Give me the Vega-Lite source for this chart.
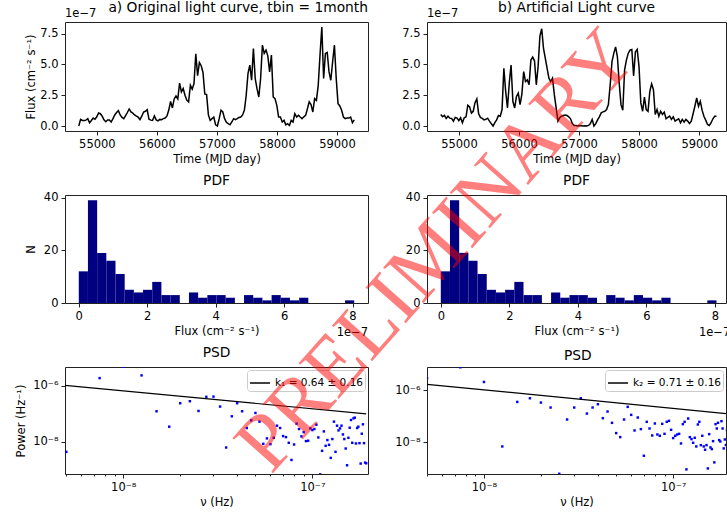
{
"$schema": "https://vega.github.io/schema/vega-lite/v6.json",
"autosize": {"type": "none"},
"padding": {"left": 65, "top": 22, "right": 662, "bottom": 497},
"background": "white",
"bounds": "flush",
"columns": 2,
"spacing": {"row": 64, "column": 59},
"resolve": {"scale": {"color": "independent"}, "legend": {"color": "independent"}},
"config": {
  "font": "DejaVu Sans",
  "view": {"stroke": "#222222", "strokeWidth": 1},
  "axis": {"domain": false, "grid": false, "ticks": true, "tickColor": "#222222", "tickSize": 4, "tickWidth": 1,
           "labelFont": "DejaVu Sans", "labelFontSize": 11.5, "labelColor": "black", "labelPadding": 3,
           "labelFlush": false, "labelOverlap": false,
           "titleFont": "DejaVu Sans", "titleFontSize": 11.5, "titleFontWeight": "normal", "titleColor": "black", "titlePadding": 4},
  "title": {"font": "DejaVu Sans", "fontSize": 13.8, "fontWeight": "normal", "color": "black", "frame": "group", "baseline": "alphabetic"},
  "legend": {"orient": "top-right", "offset": 3, "strokeColor": "#cccccc", "fillColor": "white", "cornerRadius": 3, "padding": 2,
             "labelFont": "DejaVu Sans", "labelFontSize": 10.5, "labelColor": "black", "symbolType": "stroke", "symbolSize": 400, "symbolStrokeWidth": 1.5}
},
"datasets": {
  "lc": [
{"t":54698,"orig":0.0,"art":0.94},{"t":54728,"orig":0.54,"art":0.75},{"t":54758,"orig":0.45,"art":0.86},{"t":54788,"orig":0.46,"art":0.62},{"t":54818,"orig":0.48,"art":0.8},
{"t":54848,"orig":0.6,"art":0.64},{"t":54878,"orig":0.27,"art":0.62},{"t":54908,"orig":0.45,"art":0.4},{"t":54938,"orig":0.65,"art":0.7},{"t":54968,"orig":0.55,"art":0.64},
{"t":54998,"orig":0.75,"art":0.43},{"t":55028,"orig":1.06,"art":0.67},{"t":55058,"orig":1.0,"art":0.27},{"t":55088,"orig":0.8,"art":0.67},{"t":55118,"orig":0.5,"art":0.75},
{"t":55148,"orig":0.35,"art":1.69},{"t":55178,"orig":0.5,"art":1.55},{"t":55208,"orig":0.5,"art":1.05},{"t":55238,"orig":0.33,"art":1.2},{"t":55268,"orig":0.6,"art":1.9},
{"t":55298,"orig":0.9,"art":2.2},{"t":55328,"orig":1.1,"art":1.0},{"t":55358,"orig":1.25,"art":0.7},{"t":55388,"orig":0.9,"art":0.62},{"t":55418,"orig":0.7,"art":0.5},
{"t":55448,"orig":0.6,"art":0.55},{"t":55478,"orig":0.85,"art":0.64},{"t":55508,"orig":1.1,"art":0.4},{"t":55538,"orig":1.39,"art":0.2},{"t":55568,"orig":1.15,"art":0.0},
{"t":55598,"orig":1.05,"art":0.27},{"t":55628,"orig":0.9,"art":0.5},{"t":55658,"orig":0.8,"art":0.86},{"t":55688,"orig":0.72,"art":0.8},{"t":55718,"orig":0.52,"art":1.34},
{"t":55748,"orig":0.8,"art":4.69},{"t":55778,"orig":1.14,"art":2.82},{"t":55808,"orig":1.2,"art":1.47},{"t":55838,"orig":1.33,"art":3.49},{"t":55868,"orig":0.55,"art":4.96},
{"t":55898,"orig":0.48,"art":2.01},{"t":55928,"orig":0.46,"art":1.47},{"t":55958,"orig":0.82,"art":2.4},{"t":55988,"orig":0.5,"art":2.68},{"t":56018,"orig":0.42,"art":1.74},
{"t":56048,"orig":0.54,"art":2.6},{"t":56078,"orig":0.52,"art":4.42},{"t":56108,"orig":0.6,"art":3.62},{"t":56138,"orig":0.65,"art":3.75},{"t":56168,"orig":0.82,"art":3.35},
{"t":56198,"orig":1.3,"art":5.36},{"t":56228,"orig":2.0,"art":5.6},{"t":56258,"orig":1.47,"art":5.3},{"t":56288,"orig":2.2,"art":3.35},{"t":56318,"orig":2.45,"art":4.83},
{"t":56348,"orig":2.2,"art":7.3},{"t":56378,"orig":3.48,"art":7.9},{"t":56408,"orig":2.77,"art":6.3},{"t":56438,"orig":3.04,"art":5.5},{"t":56468,"orig":2.5,"art":4.69},
{"t":56498,"orig":2.1,"art":3.89},{"t":56528,"orig":1.96,"art":3.62},{"t":56558,"orig":3.32,"art":3.89},{"t":56588,"orig":3.0,"art":2.55},{"t":56618,"orig":3.45,"art":1.5},
{"t":56648,"orig":5.87,"art":0.4},{"t":56678,"orig":4.1,"art":0.67},{"t":56708,"orig":5.16,"art":0.8},{"t":56738,"orig":4.9,"art":0.86},{"t":56768,"orig":4.35,"art":0.9},
{"t":56798,"orig":2.6,"art":0.86},{"t":56828,"orig":2.55,"art":0.75},{"t":56858,"orig":0.9,"art":0.59},{"t":56888,"orig":0.46,"art":0.2},{"t":56918,"orig":0.6,"art":0.05},
{"t":56948,"orig":0.72,"art":0.05},{"t":56978,"orig":0.1,"art":0.0},{"t":57008,"orig":0.0,"art":0.05},{"t":57038,"orig":0.6,"art":0.03},{"t":57068,"orig":1.28,"art":0.0},
{"t":57098,"orig":1.14,"art":0.02},{"t":57128,"orig":0.6,"art":0.0},{"t":57158,"orig":0.3,"art":0.05},{"t":57188,"orig":0.19,"art":0.2},{"t":57218,"orig":0.1,"art":0.54},
{"t":57248,"orig":0.33,"art":0.0},{"t":57278,"orig":0.6,"art":0.2},{"t":57308,"orig":0.52,"art":0.5},{"t":57338,"orig":0.6,"art":0.75},{"t":57368,"orig":0.7,"art":1.07},
{"t":57398,"orig":0.73,"art":1.15},{"t":57428,"orig":0.9,"art":1.2},{"t":57458,"orig":1.3,"art":1.34},{"t":57488,"orig":2.5,"art":1.74},{"t":57518,"orig":4.27,"art":3.35},
{"t":57548,"orig":4.95,"art":5.23},{"t":57578,"orig":3.72,"art":5.9},{"t":57608,"orig":6.3,"art":6.43},{"t":57638,"orig":3.86,"art":5.63},{"t":57668,"orig":3.04,"art":3.49},
{"t":57698,"orig":2.36,"art":1.74},{"t":57728,"orig":3.86,"art":1.29},{"t":57758,"orig":6.58,"art":4.56},{"t":57788,"orig":5.9,"art":5.36},{"t":57818,"orig":6.17,"art":5.9},
{"t":57848,"orig":5.7,"art":6.17},{"t":57878,"orig":4.4,"art":6.22},{"t":57908,"orig":5.76,"art":4.07},{"t":57938,"orig":2.36,"art":6.03},{"t":57968,"orig":2.23,"art":6.22},
{"t":57998,"orig":1.68,"art":4.83},{"t":58028,"orig":0.73,"art":1.88},{"t":58058,"orig":0.73,"art":1.2},{"t":58088,"orig":0.33,"art":2.36},{"t":58118,"orig":0.46,"art":1.34},
{"t":58148,"orig":0.1,"art":1.2},{"t":58178,"orig":0.19,"art":2.82},{"t":58208,"orig":0.05,"art":3.43},{"t":58238,"orig":0.46,"art":2.95},{"t":58268,"orig":0.33,"art":0.94},
{"t":58298,"orig":1.0,"art":1.34},{"t":58328,"orig":0.73,"art":0.8},{"t":58358,"orig":0.87,"art":1.2},{"t":58388,"orig":0.73,"art":0.94},{"t":58418,"orig":0.6,"art":1.13},
{"t":58448,"orig":0.75,"art":0.59},{"t":58478,"orig":0.87,"art":0.7},{"t":58508,"orig":1.41,"art":0.8},{"t":58538,"orig":1.96,"art":0.54},{"t":58568,"orig":1.74,"art":0.75},
{"t":58598,"orig":1.14,"art":0.4},{"t":58628,"orig":2.23,"art":0.5},{"t":58658,"orig":2.09,"art":0.59},{"t":58688,"orig":3.3,"art":0.27},{"t":58718,"orig":5.76,"art":0.54},
{"t":58748,"orig":8.05,"art":0.32},{"t":58778,"orig":3.86,"art":0.54},{"t":58808,"orig":5.9,"art":0.4},{"t":58838,"orig":5.98,"art":0.21},{"t":58868,"orig":4.4,"art":0.4},
{"t":58898,"orig":3.72,"art":1.0},{"t":58928,"orig":5.22,"art":1.61},{"t":58958,"orig":6.58,"art":2.28},{"t":58988,"orig":3.86,"art":1.61},{"t":59018,"orig":1.82,"art":2.01},
{"t":59048,"orig":1.63,"art":1.29},{"t":59078,"orig":1.28,"art":0.8},{"t":59108,"orig":0.73,"art":0.48},{"t":59138,"orig":0.6,"art":0.13},{"t":59168,"orig":0.65,"art":0.05},
{"t":59198,"orig":0.65,"art":0.27},{"t":59228,"orig":0.73,"art":0.59},{"t":59258,"orig":0.27,"art":0.8},{"t":59288,"orig":0.5,"art":0.8}
  ],
  "hist": [
{"x0":0.0,"x1":0.268,"n":12},{"x0":0.268,"x1":0.537,"n":39},{"x0":0.537,"x1":0.805,"n":19},{"x0":0.805,"x1":1.073,"n":16},{"x0":1.073,"x1":1.342,"n":11},
{"x0":1.342,"x1":1.61,"n":5},{"x0":1.61,"x1":1.878,"n":4},{"x0":1.878,"x1":2.147,"n":5},{"x0":2.147,"x1":2.415,"n":8},{"x0":2.415,"x1":2.683,"n":3},
{"x0":2.683,"x1":2.952,"n":3},{"x0":2.952,"x1":3.22,"n":0},{"x0":3.22,"x1":3.488,"n":4},{"x0":3.488,"x1":3.757,"n":2},{"x0":3.757,"x1":4.025,"n":3},
{"x0":4.025,"x1":4.293,"n":3},{"x0":4.293,"x1":4.562,"n":2},{"x0":4.562,"x1":4.83,"n":0},{"x0":4.83,"x1":5.098,"n":3},{"x0":5.098,"x1":5.367,"n":2},
{"x0":5.367,"x1":5.635,"n":1},{"x0":5.635,"x1":5.903,"n":3},{"x0":5.903,"x1":6.172,"n":2},{"x0":6.172,"x1":6.44,"n":1},{"x0":6.44,"x1":6.708,"n":2},
{"x0":6.708,"x1":6.977,"n":0},{"x0":6.977,"x1":7.245,"n":0},{"x0":7.245,"x1":7.513,"n":0},{"x0":7.513,"x1":7.782,"n":0},{"x0":7.782,"x1":8.05,"n":1}
  ],
  "psd": [
{"nu":5e-9,"p1":4.38e-9,"p2":2.88e-6},{"nu":7.5e-9,"p1":1.88e-6,"p2":7.59e-6},{"nu":1e-8,"p1":4.79e-6,"p2":2.08e-6},{"nu":1.25e-8,"p1":2.35e-6,"p2":7.03e-9},
{"nu":1.5e-8,"p1":1.23e-7,"p2":3.58e-7},{"nu":1.75e-8,"p1":3.46e-8,"p2":4.94e-7},{"nu":2e-8,"p1":2.38e-7,"p2":3.38e-7},{"nu":2.25e-8,"p1":2.81e-7,"p2":2.18e-7},
{"nu":2.5e-8,"p1":1.26e-7,"p2":6.3e-10},{"nu":2.75e-8,"p1":4.03e-7,"p2":7.57e-8},{"nu":3e-8,"p1":4.1e-7,"p2":2.18e-7},{"nu":3.25e-8,"p1":1.81e-7,"p2":4.94e-7},
{"nu":3.5e-8,"p1":6.25e-9,"p2":1.28e-7},{"nu":3.75e-8,"p1":8.13e-8,"p2":2.18e-7},{"nu":4e-8,"p1":2.38e-7,"p2":2.92e-7},{"nu":4.25e-8,"p1":1.23e-7,"p2":8.51e-8},
{"nu":4.5e-8,"p1":3.1e-8,"p2":1.53e-7},{"nu":4.75e-8,"p1":5.83e-8,"p2":5.65e-8},{"nu":5e-8,"p1":1.07e-7,"p2":2.28e-8},{"nu":5.25e-8,"p1":5.24e-8,"p2":1.6e-8},
{"nu":5.5e-8,"p1":8.47e-9,"p2":7.57e-8},{"nu":5.75e-8,"p1":1.32e-8,"p2":2.31e-7},{"nu":6e-8,"p1":8.24e-9,"p2":1.14e-7},{"nu":6.25e-8,"p1":1.39e-8,"p2":2.88e-8},
{"nu":6.5e-8,"p1":3.76e-8,"p2":9.02e-8},{"nu":6.75e-8,"p1":3.1e-8,"p2":3.24e-8},{"nu":7e-8,"p1":1.6e-8,"p2":3.09e-9},{"nu":7.25e-8,"p1":1.47e-8,"p2":6.17e-8},
{"nu":7.5e-8,"p1":9.2e-9,"p2":3.43e-8},{"nu":7.75e-8,"p1":2.25e-9,"p2":1.85e-8},{"nu":8e-8,"p1":8.0e-9,"p2":5.32e-8},{"nu":8.25e-8,"p1":4.44e-8,"p2":2.02e-8},
{"nu":8.5e-8,"p1":2.85e-8,"p2":1.8e-8},{"nu":8.75e-8,"p1":1.56e-8,"p2":5.16e-8},{"nu":9e-8,"p1":2.22e-8,"p2":2.14e-8},{"nu":9.25e-8,"p1":1.06e-8,"p2":6.17e-8},
{"nu":9.5e-8,"p1":1.09e-8,"p2":6.73e-8},{"nu":9.75e-8,"p1":3.01e-8,"p2":3.05e-8},{"nu":1e-7,"p1":2.62e-8,"p2":1.47e-8},{"nu":1.025e-7,"p1":2.85e-8,"p2":1.8e-8},
{"nu":1.05e-7,"p1":4.08e-8,"p2":2.02e-8},{"nu":1.075e-7,"p1":1.43e-8,"p2":2.14e-8},{"nu":1.1e-7,"p1":6.9e-10,"p2":9.16e-9},{"nu":1.125e-7,"p1":4.75e-9,"p2":5.02e-8},
{"nu":1.15e-7,"p1":2.35e-8,"p2":6.17e-8},{"nu":1.175e-7,"p1":7.18e-9,"p2":9.3e-10},{"nu":1.2e-7,"p1":1.15e-8,"p2":8.26e-8},{"nu":1.225e-7,"p1":7.8e-9,"p2":1.6e-8},
{"nu":1.25e-7,"p1":2.66e-9,"p2":1.34e-8},{"nu":1.275e-7,"p1":1.25e-8,"p2":9.7e-9},{"nu":1.3e-7,"p1":5.24e-8,"p2":1.51e-8},{"nu":1.325e-7,"p1":4.38e-9,"p2":7.03e-9},
{"nu":1.35e-7,"p1":3.76e-8,"p2":4.88e-8},{"nu":1.375e-7,"p1":2.55e-8,"p2":6.17e-8},{"nu":1.4e-7,"p1":3.01e-8,"p2":7.91e-9},{"nu":1.425e-7,"p1":3.76e-8,"p2":1.8e-8},
{"nu":1.45e-7,"p1":1.83e-8,"p2":7.03e-9},{"nu":1.475e-7,"p1":1.25e-8,"p2":5.25e-9},{"nu":1.5e-7,"p1":5.75e-9,"p2":7.91e-9},{"nu":1.525e-7,"p1":1.45e-9,"p2":1.01e-9},
{"nu":1.55e-7,"p1":1.39e-8,"p2":2.08e-8},{"nu":1.575e-7,"p1":3.18e-8,"p2":6.44e-9},{"nu":1.6e-7,"p1":6.0e-8,"p2":5.56e-9},{"nu":1.625e-7,"p1":9.2e-9,"p2":1.12e-8},
{"nu":1.65e-7,"p1":6.89e-8,"p2":1.72e-9},{"nu":1.675e-7,"p1":7.28e-8,"p2":5.02e-8},{"nu":1.7e-7,"p1":8.7e-9,"p2":3.43e-8},{"nu":1.725e-7,"p1":3.1e-8,"p2":5.65e-8},
{"nu":1.75e-7,"p1":3.46e-8,"p2":1.23e-8},{"nu":1.775e-7,"p1":8.95e-9,"p2":1.09e-8},{"nu":1.8e-7,"p1":1.67e-9,"p2":6.53e-8},{"nu":1.825e-7,"p1":1.94e-8,"p2":3.43e-8},
{"nu":1.85e-7,"p1":4.2e-8,"p2":5.9e-9},{"nu":1.875e-7,"p1":8.95e-9,"p2":1.3e-8},{"nu":1.9e-7,"p1":1.81e-9,"p2":8e-9},{"nu":1.925e-7,"p1":1.71e-9,"p2":3e-8}
  ],
  "fit": [
{"nu":2.5e-9,"f1":1.6e-6,"f2":2.77e-6},{"nu":1.925e-7,"f1":9.9e-8,"f2":1.27e-7}
  ]
},
"concat": [
  {"width": 303, "height": 109,
   "title": {"text": "a) Original light curve, tbin = 1month", "anchor": "end", "offset": -7},
   "encoding": {
     "x": {"type": "quantitative", "scale": {"domain": [54468.5, 59517.5]}, "axis": {"title": "Time (MJD day)", "values": [55000, 56000, 57000, 58000, 59000], "format": "d", "labelOverlap": false}},
     "y": {"type": "quantitative", "scale": {"domain": [-0.4025, 8.4525]}, "axis": {"title": "Flux (cm⁻² s⁻¹)", "titlePadding": 3, "values": [0, 2.5, 5, 7.5], "format": ".1f", "labelOverlap": false}}},
   "layer": [
    {"data": {"name": "lc"}, "mark": {"type": "line", "color": "black", "strokeWidth": 1.5},
     "encoding": {"x": {"field": "t"}, "y": {"field": "orig"}}},
    {"data": {"values": [{"label": "1e−7"}]}, "mark": {"type": "text", "align": "left", "baseline": "alphabetic", "fontSize": 11.5, "color": "black"},
     "encoding": {"x": {"datum": 54468.5}, "y": {"datum": 8.86}, "text": {"field": "label"}}}
   ]},
  {"width": 299, "height": 109,
   "title": {"text": "b) Artificial Light curve", "offset": -7},
   "encoding": {
     "x": {"type": "quantitative", "scale": {"domain": [54468.5, 59445.9]}, "axis": {"title": "Time (MJD day)", "values": [55000, 56000, 57000, 58000, 59000], "format": "d", "labelOverlap": false}},
     "y": {"type": "quantitative", "scale": {"domain": [-0.4025, 8.4525]}, "axis": {"title": null, "values": [0, 2.5, 5, 7.5], "format": ".1f", "labelOverlap": false}}},
   "layer": [
    {"data": {"name": "lc"}, "mark": {"type": "line", "color": "black", "strokeWidth": 1.5},
     "encoding": {"x": {"field": "t"}, "y": {"field": "art"}}},
    {"data": {"values": [{"label": "1e−7"}]}, "mark": {"type": "text", "align": "left", "baseline": "alphabetic", "fontSize": 11.5, "color": "black"},
     "encoding": {"x": {"datum": 54468.5}, "y": {"datum": 8.86}, "text": {"field": "label"}}}
   ]},
  {"width": 303, "height": 108, "title": {"text": "PDF", "offset": 3.7},
   "encoding": {
     "x": {"type": "quantitative", "scale": {"domain": [-0.4025, 8.4525]}, "axis": {"title": "Flux (cm⁻² s⁻¹)", "values": [0, 2, 4, 6, 8], "format": "d", "labelOverlap": false}},
     "y": {"type": "quantitative", "scale": {"domain": [0, 40.95]}, "axis": {"title": "N", "titlePadding": 7, "values": [0, 20, 40], "labelOverlap": false}}},
   "layer": [
    {"data": {"name": "hist"}, "mark": {"type": "rect", "color": "#000080"},
     "encoding": {"x": {"field": "x0"}, "x2": {"field": "x1"}, "y": {"field": "n"}, "y2": {"datum": 0}}},
    {"data": {"values": [{"label": "1e−7"}]}, "mark": {"type": "text", "align": "right", "baseline": "alphabetic", "fontSize": 11.5, "color": "black"},
     "encoding": {"x": {"datum": 8.4525}, "y": {"datum": -12.7}, "text": {"field": "label"}}}
   ]},
  {"width": 299, "height": 108, "title": {"text": "PDF", "offset": 3.7},
   "encoding": {
     "x": {"type": "quantitative", "scale": {"domain": [-0.4025, 8.327]}, "axis": {"title": "Flux (cm⁻² s⁻¹)", "values": [0, 2, 4, 6, 8], "format": "d", "labelOverlap": false}},
     "y": {"type": "quantitative", "scale": {"domain": [0, 40.95]}, "axis": {"title": null, "values": [0, 20, 40], "labelOverlap": false}}},
   "layer": [
    {"data": {"name": "hist"}, "mark": {"type": "rect", "color": "#000080"},
     "encoding": {"x": {"field": "x0"}, "x2": {"field": "x1"}, "y": {"field": "n"}, "y2": {"datum": 0}}},
    {"data": {"values": [{"label": "1e−7"}]}, "mark": {"type": "text", "align": "right", "baseline": "alphabetic", "fontSize": 11.5, "color": "black"},
     "encoding": {"x": {"datum": 8.4525}, "y": {"datum": -12.7}, "text": {"field": "label"}}}
   ]},
  {"width": 303, "height": 107, "title": {"text": "PSD", "offset": 7.6},
   "encoding": {
     "x": {"type": "quantitative", "scale": {"type": "log", "domain": [4.92e-9, 1.968e-7]},
           "axis": {"title": "ν (Hz)", "labelOverlap": false, "values": [5e-9, 6e-9, 7e-9, 8e-9, 9e-9, 1e-8, 2e-8, 3e-8, 4e-8, 5e-8, 6e-8, 7e-8, 8e-8, 9e-8, 1e-7],
                    "labelExpr": "abs(log(datum.value)/LN10 - round(log(datum.value)/LN10)) < 0.001 ? (round(log(datum.value)/LN10) == -8 ? '10⁻⁸' : '10⁻⁷') : ''",
                    "tickSize": {"condition": {"test": "abs(log(datum.value)/LN10 - round(log(datum.value)/LN10)) < 0.001", "value": 4}, "value": 2}}},
     "y": {"type": "quantitative", "scale": {"type": "log", "domain": [7.08e-10, 4.68e-6]},
           "axis": {"title": "Power (Hz⁻¹)", "titlePadding": 6, "labelOverlap": false, "values": [1e-8, 1e-6], "labelExpr": "round(log(datum.value)/LN10) == -6 ? '10⁻⁶' : '10⁻⁸'"}}},
   "layer": [
    {"data": {"name": "psd"}, "mark": {"type": "square", "size": 6, "color": "blue", "opacity": 1, "clip": true},
     "encoding": {"x": {"field": "nu"}, "y": {"field": "p1"}}},
    {"data": {"name": "fit"}, "mark": {"type": "line", "clip": true, "strokeWidth": 1.2},
     "encoding": {"x": {"field": "nu"}, "y": {"field": "f1"},
      "color": {"datum": "k₁ = 0.64 ± 0.16", "type": "nominal", "scale": {"range": ["black"]}, "legend": {"title": null}}}}
   ]},
  {"width": 299, "height": 107,
   "encoding": {
     "x": {"type": "quantitative", "scale": {"type": "log", "domain": [5.0e-9, 1.902e-7]},
           "axis": {"title": "ν (Hz)", "labelOverlap": false, "values": [5e-9, 6e-9, 7e-9, 8e-9, 9e-9, 1e-8, 2e-8, 3e-8, 4e-8, 5e-8, 6e-8, 7e-8, 8e-8, 9e-8, 1e-7],
                    "labelExpr": "abs(log(datum.value)/LN10 - round(log(datum.value)/LN10)) < 0.001 ? (round(log(datum.value)/LN10) == -8 ? '10⁻⁸' : '10⁻⁷') : ''",
                    "tickSize": {"condition": {"test": "abs(log(datum.value)/LN10 - round(log(datum.value)/LN10)) < 0.001", "value": 4}, "value": 2}}},
     "y": {"type": "quantitative", "scale": {"type": "log", "domain": [6.17e-10, 7.8e-6]},
           "axis": {"title": null, "labelOverlap": false, "values": [1e-8, 1e-6], "labelExpr": "round(log(datum.value)/LN10) == -6 ? '10⁻⁶' : '10⁻⁸'"}}},
   "layer": [
    {"data": {"name": "psd"}, "mark": {"type": "square", "size": 6, "color": "blue", "opacity": 1, "clip": true},
     "encoding": {"x": {"field": "nu"}, "y": {"field": "p2"}}},
    {"data": {"name": "fit"}, "mark": {"type": "line", "clip": true, "strokeWidth": 1.2},
     "encoding": {"x": {"field": "nu"}, "y": {"field": "f2"},
      "color": {"datum": "k₂ = 0.71 ± 0.16", "type": "nominal", "scale": {"range": ["black"]}, "legend": {"title": null}}}},
    {"data": {"values": [{"label": "PSD"}]}, "mark": {"type": "text", "align": "center", "baseline": "alphabetic", "fontSize": 13.8, "color": "black"},
     "encoding": {"x": {"datum": 3.13e-8}, "y": {"datum": 1.51e-5}, "text": {"field": "label"}}},
    {"data": {"values": [{"label": "PRELIMINARY"}]}, "mark": {"type": "text", "angle": -48.5, "font": "Liberation Serif", "fontSize": 82, "color": "red", "opacity": 0.5, "align": "center", "baseline": "middle"},
     "encoding": {"x": {"datum": 5.6e-9}, "y": {"datum": 0.22}, "text": {"field": "label"}}}
   ]}
]
}
